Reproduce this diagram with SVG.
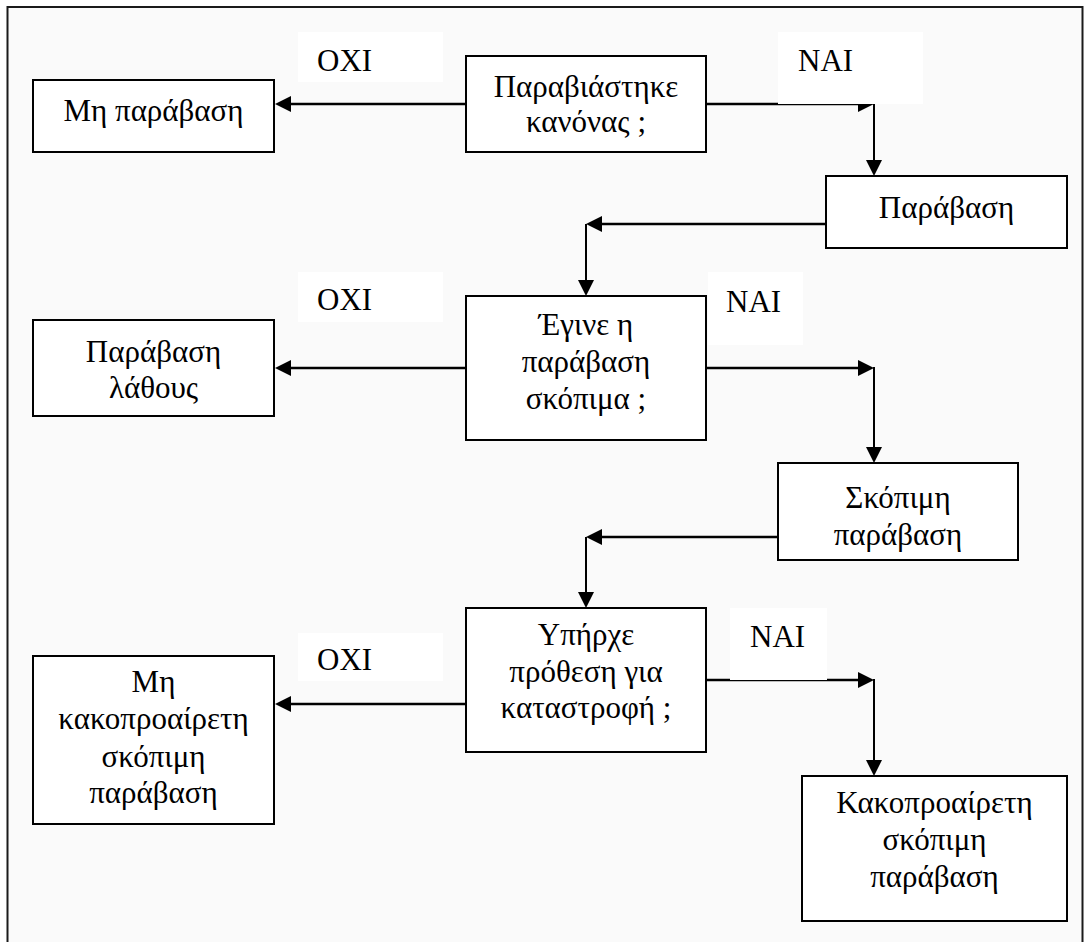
<svg xmlns="http://www.w3.org/2000/svg" width="1090" height="942" viewBox="0 0 1090 942">
  <style>
    .frame { fill: #fafafa; stroke: #1a1a1a; stroke-width: 2; }
    .box { fill: #ffffff; stroke: #000000; stroke-width: 2; }
    .t { font-family: "Liberation Serif", serif; font-size: 31px; fill: #000000; text-anchor: middle; }
    .lbl { font-family: "Liberation Serif", serif; font-size: 31px; fill: #000000; text-anchor: start; }
    .lblbg { fill: #ffffff; }
    .h { stroke: #000000; stroke-width: 2.5; fill: none; }
    .v { stroke: #000000; stroke-width: 2; fill: none; }
  </style>
  <defs>
    <marker id="ah" markerUnits="userSpaceOnUse" markerWidth="16" markerHeight="16" viewBox="0 0 16 16" refX="6" refY="8" orient="auto">
      <path d="M0,0 L16,8 L0,16 Z" fill="#000000"/>
    </marker>
  </defs>

  <rect width="1090" height="942" fill="#ffffff"/>
  <rect class="frame" x="7.5" y="7" width="1075" height="950"/>

  <!-- connectors -->
  <g id="connectors">
    <path class="h" d="M466,104 H285" marker-end="url(#ah)"/>
    <path class="h" d="M706,104 H864" marker-end="url(#ah)"/>
    <path class="v" d="M874,103 V166" marker-end="url(#ah)"/>
    <path class="h" d="M826,224 H596" marker-end="url(#ah)"/>
    <path class="v" d="M586,224 V286" marker-end="url(#ah)"/>

    <path class="h" d="M466,368 H285" marker-end="url(#ah)"/>
    <path class="h" d="M706,368 H864" marker-end="url(#ah)"/>
    <path class="v" d="M874,367 V453" marker-end="url(#ah)"/>
    <path class="h" d="M778,537 H596" marker-end="url(#ah)"/>
    <path class="v" d="M586,537 V598" marker-end="url(#ah)"/>

    <path class="h" d="M466,704 H285" marker-end="url(#ah)"/>
    <path class="h" d="M706,680 H864" marker-end="url(#ah)"/>
    <path class="v" d="M874,679 V766" marker-end="url(#ah)"/>
  </g>

  <!-- branch labels -->
  <g id="labels">
    <rect class="lblbg" x="298" y="32" width="145" height="50"/>
    <text class="lbl" x="317" y="71">ΟΧΙ</text>
    <rect class="lblbg" x="778" y="32" width="145" height="72"/>
    <text class="lbl" x="798" y="71">ΝΑΙ</text>

    <rect class="lblbg" x="298" y="272" width="145" height="50"/>
    <text class="lbl" x="317" y="310">ΟΧΙ</text>
    <rect class="lblbg" x="708" y="272" width="95" height="73"/>
    <text class="lbl" x="726" y="312">ΝΑΙ</text>

    <rect class="lblbg" x="298" y="633" width="145" height="48"/>
    <text class="lbl" x="317" y="670">ΟΧΙ</text>
    <rect class="lblbg" x="730" y="608" width="97" height="72"/>
    <text class="lbl" x="750" y="647">ΝΑΙ</text>
  </g>

  <!-- nodes -->
  <g id="no-violation">
    <rect class="box" x="33" y="80" width="241" height="72"/>
    <text class="t" x="153.5" y="121">Μη παράβαση</text>
  </g>
  <g id="rule-broken">
    <rect class="box" x="466" y="56" width="240" height="96"/>
    <text class="t" x="586" y="97">Παραβιάστηκε</text>
    <text class="t" x="586" y="132">κανόνας ;</text>
  </g>
  <g id="violation">
    <rect class="box" x="826" y="176" width="241" height="72"/>
    <text class="t" x="946.5" y="218">Παράβαση</text>
  </g>
  <g id="error-violation">
    <rect class="box" x="33" y="320" width="241" height="96"/>
    <text class="t" x="153.5" y="362">Παράβαση</text>
    <text class="t" x="153.5" y="398">λάθους</text>
  </g>
  <g id="intentional-question">
    <rect class="box" x="466" y="296" width="240" height="144"/>
    <text class="t" x="586" y="335">Έγινε η</text>
    <text class="t" x="586" y="372">παράβαση</text>
    <text class="t" x="586" y="409">σκόπιμα ;</text>
  </g>
  <g id="intentional-violation">
    <rect class="box" x="778" y="463" width="240" height="97"/>
    <text class="t" x="898" y="508">Σκόπιμη</text>
    <text class="t" x="898" y="545">παράβαση</text>
  </g>
  <g id="destruction-question">
    <rect class="box" x="466" y="608" width="240" height="144"/>
    <text class="t" x="586" y="645">Υπήρχε</text>
    <text class="t" x="586" y="682">πρόθεση για</text>
    <text class="t" x="586" y="718">καταστροφή ;</text>
  </g>
  <g id="non-malicious">
    <rect class="box" x="33" y="656" width="241" height="168"/>
    <text class="t" x="153.5" y="692">Μη</text>
    <text class="t" x="153.5" y="729">κακοπροαίρετη</text>
    <text class="t" x="153.5" y="767">σκόπιμη</text>
    <text class="t" x="153.5" y="803">παράβαση</text>
  </g>
  <g id="malicious">
    <rect class="box" x="802" y="776" width="265" height="145"/>
    <text class="t" x="934.5" y="813">Κακοπροαίρετη</text>
    <text class="t" x="934.5" y="850">σκόπιμη</text>
    <text class="t" x="934.5" y="887">παράβαση</text>
  </g>
</svg>
